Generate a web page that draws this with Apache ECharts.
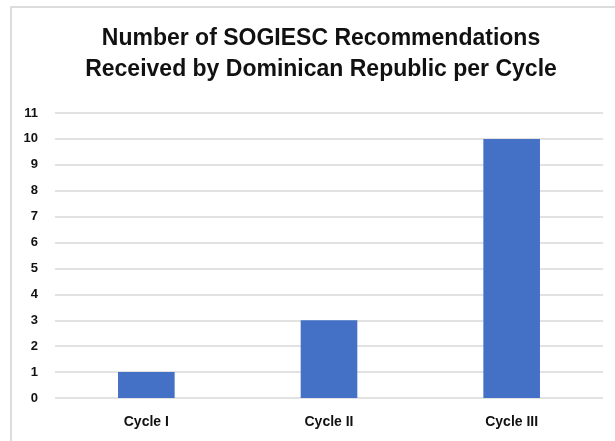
<!DOCTYPE html>
<html>
<head>
<meta charset="utf-8">
<script src="https://cdn.jsdelivr.net/npm/echarts@6/dist/echarts.min.js"></script>
<style>
  html, body { margin: 0; padding: 0; background: #fff; }
  .frame {
    position: absolute;
    left: 10px;
    top: 6px;
    width: 640px;
    height: 480px;
    border: 2px solid #dcdcdc;
    box-sizing: border-box;
  }
  #chart { position: absolute; left: 0; top: 0; width: 615px; height: 441px; }
</style>
</head>
<body>
<div class="frame"></div>
<div id="chart"></div>
<script>
// categories and values
const cycles = ['Cycle I', 'Cycle II', 'Cycle III']
const recommendations = [1, 3, 10]
const yMin = 0
const yMax = 11
const yStep = 1

const chart = echarts.init(document.getElementById('chart'))

const option = {
  backgroundColor: 'transparent',
  animation: false,
  title: {
    text: 'Number of SOGIESC Recommendations\nReceived by Dominican Republic per Cycle',
    left: 316,
    top: 18,
    textAlign: 'center',
    textStyle: {
      fontFamily: 'Liberation Sans, Arial, sans-serif',
      fontSize: 23,
      fontWeight: 'bold',
      color: '#111',
      lineHeight: 31
    }
  },
  grid: { left: 55, right: 12, top: 113, bottom: 43 },
  xAxis: {
    type: 'category',
    data: cycles,
    axisLine: { show: false },
    axisTick: { show: false },
    axisLabel: {
      color: '#111',
      fontFamily: 'Liberation Sans, Arial, sans-serif',
      fontSize: 14,
      fontWeight: 'bold',
      margin: 17
    }
  },
  yAxis: {
    type: 'value',
    min: yMin,
    max: yMax,
    interval: yStep,
    axisLine: { show: false },
    axisTick: { show: false },
    axisLabel: {
      color: '#111',
      fontFamily: 'Liberation Sans, Arial, sans-serif',
      fontSize: 13,
      fontWeight: 'bold',
      margin: 17
    },
    splitLine: { lineStyle: { color: '#d9d9d9', width: 1.5 } }
  },
  series: [
    {
      type: 'bar',
      data: recommendations,
      barWidth: '31%',
      itemStyle: { color: '#4470c6' }
    }
  ]
}

chart.setOption(option)
</script>
</body>
</html>
